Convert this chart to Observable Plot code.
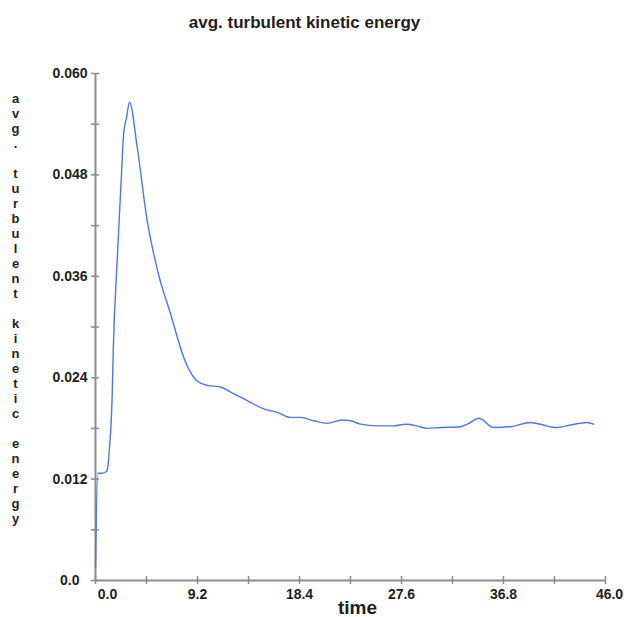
<!DOCTYPE html>
<html>
<head>
<meta charset="utf-8">
<script src="https://cdn.jsdelivr.net/npm/d3@7"></script>
<script src="https://cdn.jsdelivr.net/npm/@observablehq/plot@0.6"></script>
<style>
  html, body { margin: 0; padding: 0; background: #fff; }
</style>
</head>
<body>
<div id="chart"></div>
<script>
const title = "avg. turbulent kinetic energy";
const yLabel = "avg. turbulent kinetic energy";
const xLabel = "time";

const time = [0, 0.2, 0.6, 1.0, 1.12, 1.25, 1.5, 1.6, 1.96, 2.3, 2.55, 2.8, 3.07, 3.76, 4.66, 5.26, 5.71, 6.76, 7.96, 8.5, 9.17, 10.07, 11.27, 12.18, 13.68, 15.18, 16.39, 17.59, 18.49, 19.69, 20.9, 22.25, 23.0, 23.9, 25.4, 26.9, 27.96, 29.0, 29.9, 31.1, 32.9, 33.67, 34.57, 35.93, 37.43, 39.24, 40.4, 41.5, 42.84, 44.35, 44.94];
const tke = [0.0016, 0.0127, 0.0127, 0.0129, 0.0135, 0.0155, 0.0217, 0.0272, 0.0380, 0.0470, 0.0530, 0.0548, 0.0566, 0.0513, 0.0426, 0.0386, 0.0361, 0.0316, 0.0264, 0.0248, 0.0236, 0.0231, 0.0229, 0.0223, 0.0213, 0.0203, 0.0199, 0.0193, 0.0193, 0.0189, 0.0186, 0.0190, 0.0189, 0.0185, 0.0183, 0.0183, 0.0185, 0.0183, 0.0180, 0.0181, 0.0182, 0.0186, 0.0192, 0.0181, 0.0182, 0.0187, 0.0184, 0.0181, 0.0184, 0.0187, 0.0185];

const xTickLabels = [0, 9.2, 18.4, 27.6, 36.8, 46.0];
const xTicksAll = [0, 4.6, 9.2, 13.8, 18.4, 23.0, 27.6, 32.2, 36.8, 41.4, 46.0];
const yTickLabels = [0, 0.012, 0.024, 0.036, 0.048, 0.060];
const yTicksAll = [0, 0.006, 0.012, 0.018, 0.024, 0.030, 0.036, 0.042, 0.048, 0.054, 0.060];

const data = time.map((t, i) => ({t, v: tke[i]}));
const axisGray = "#8c8c8c";
const textColor = "#1e1e1e";
const verticalLabel = yLabel.split("").map(c => c === " " ? "\u00a0" : c).join("\n");

const fmtY = v => v === 0 ? "0.0" : d3.format(".3f")(v);
const fmtX = v => d3.format(".1f")(v);

const plot = Plot.plot({
  width: 624,
  height: 617,
  marginTop: 73,
  marginBottom: 37,
  marginLeft: 95,
  marginRight: 19,
  style: {fontFamily: "'Liberation Sans', Arial, Helvetica, sans-serif", background: "#fff", overflow: "visible"},
  x: {domain: [0, 46], label: null},
  y: {domain: [0, 0.06], label: null},
  marks: [
    Plot.ruleX([0], {stroke: axisGray, strokeWidth: 2}),
    Plot.ruleY([0], {stroke: axisGray, strokeWidth: 2}),
    // crossing tick marks
    Plot.axisY(yTicksAll, {anchor: "left", tickSize: 8, dx: 4, tickFormat: () => "", stroke: axisGray, strokeWidth: 1.5, label: null}),
    Plot.axisX(xTicksAll, {anchor: "bottom", tickSize: 8, dy: -4, tickFormat: () => "", stroke: axisGray, strokeWidth: 1.5, label: null}),
    // tick labels
    Plot.axisY(yTickLabels.filter(d => d !== 0), {anchor: "left", tickSize: 0, tickPadding: 8, tickFormat: fmtY, fontSize: 14, fontWeight: "bold", fill: textColor, label: null}),
    Plot.axisY([0], {anchor: "left", tickSize: 0, tickPadding: 16, tickFormat: fmtY, fontSize: 14, fontWeight: "bold", fill: textColor, label: null}),
    Plot.axisX(xTickLabels.filter(d => d !== 0 && d !== 46), {anchor: "bottom", tickSize: 0, tickPadding: 9, tickFormat: fmtX, fontSize: 14, fontWeight: "bold", fill: textColor, label: null}),
    Plot.axisX([0], {anchor: "bottom", tickSize: 0, tickPadding: 9, dx: 12, tickFormat: fmtX, fontSize: 14, fontWeight: "bold", fill: textColor, label: null}),
    Plot.axisX([46], {anchor: "bottom", tickSize: 0, tickPadding: 9, dx: 4, tickFormat: fmtX, fontSize: 14, fontWeight: "bold", fill: textColor, label: null}),
    // data line
    Plot.line(data, {x: "t", y: "v", stroke: "#4f76e4", strokeWidth: 1.4, curve: "monotone-x"}),
    // title
    Plot.text([title], {frameAnchor: "top", dx: -46, dy: -51, lineAnchor: "middle", fontSize: 17, fontWeight: "bold", fill: textColor}),
    // x label
    Plot.text([xLabel], {frameAnchor: "bottom", dx: 7, dy: 27, lineAnchor: "middle", fontSize: 19, fontWeight: "bold", fill: textColor}),
    // vertical stacked y label
    Plot.text([verticalLabel], {frameAnchor: "top-left", dx: -80, dy: 19, lineAnchor: "top", textAnchor: "middle", lineHeight: 15 / 13, fontSize: 13, fontWeight: "bold", fill: textColor})
  ]
});
document.getElementById("chart").appendChild(plot);
</script>
</body>
</html>
